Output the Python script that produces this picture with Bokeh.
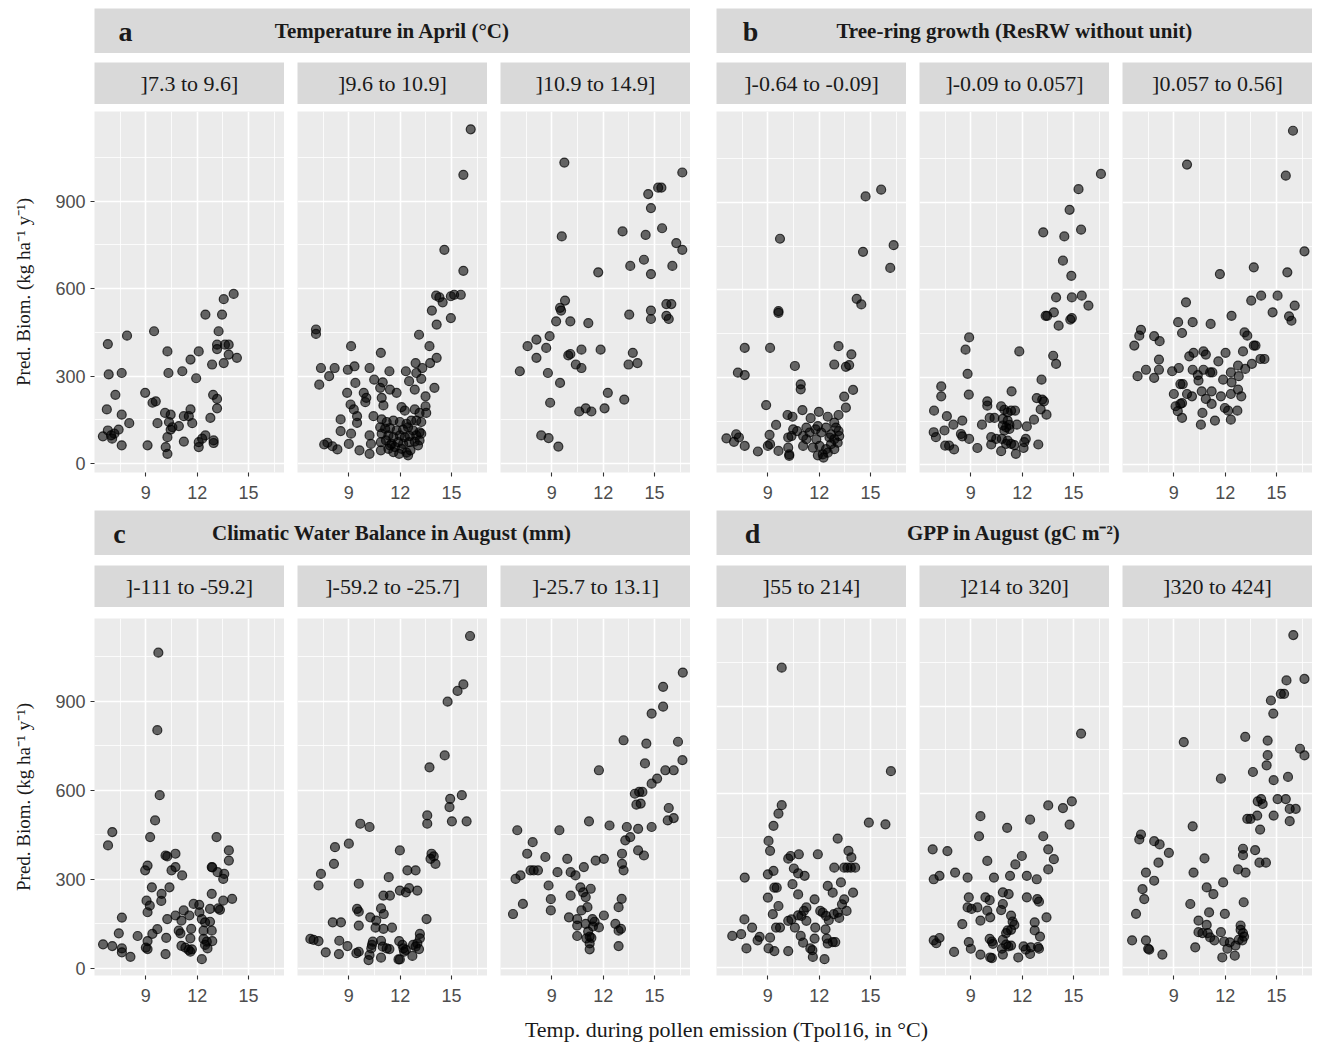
from bokeh.plotting import figure
from bokeh.layouts import row, column
from bokeh.models import Label, FixedTicker, Range1d
from bokeh.embed import file_html
from bokeh.resources import INLINE

# ---------------- data (x = Tpol16 in °C, y = predicted biomass) ----------------
A1 = [(14.13,582),(13.55,564),(12.48,511),(13.45,511),(9.48,454),(7.9,439),(13.25,454),(6.78,410),(13.16,408),(13.62,408),(13.84,408),(13.16,393),(10.26,385),(12.09,385),(13.84,374),(14.32,363),(11.61,357),(13.55,345),(12.87,340),(6.83,306),(7.59,311),(10.32,311),(11.13,317),(11.94,293),(8.96,243),(7.22,236),(12.93,236),(13.16,222),(9.39,209),(9.58,214),(6.72,186),(13.16,190),(11.61,186),(10.12,174),(10.45,168),(7.59,168),(11.22,163),(11.51,163),(12.77,157),(8.03,139),(9.68,139),(10.35,143),(10.55,125),(10.93,129),(10.45,117),(11.71,139),(6.49,94),(6.78,114),(6.97,97),(7.16,103),(7.41,117),(7.03,86),(7.59,63),(9.1,63),(10.26,91),(10.16,57),(10.26,34),(11.22,76),(12.09,74),(12.09,57),(12.29,86),(12.48,97),(12.96,80),(12.96,71)]
A2 = [(16.12,1146),(15.69,990),(14.58,733),(15.69,661),(14.1,576),(14.29,570),(14.48,553),(14.96,574),(15.15,579),(15.54,579),(13.85,525),(14.96,499),(14.13,477),(7.08,460),(7.08,445),(13.1,442),(9.13,403),(10.87,380),(13.71,403),(14.13,363),(13.75,345),(12.9,345),(13.29,328),(7.37,328),(8.17,328),(7.85,300),(8.94,322),(9.33,334),(10.21,328),(11.37,317),(12.33,317),(7.27,271),(9.38,277),(10.48,288),(12.94,311),(13.23,291),(12.52,283),(12.85,254),(14.0,260),(10.98,279),(10.83,260),(11.4,254),(11.79,243),(8.9,243),(9.87,243),(10.02,226),(9.96,211),(9.1,203),(9.29,186),(9.48,163),(10.92,226),(11.02,200),(10.44,163),(12.08,194),(12.27,182),(13.48,231),(13.48,197),(13.52,174),(12.85,186),(13.13,174),(8.52,152),(8.52,112),(9.13,103),(9.48,140),(7.56,66),(7.75,72),(8.04,60),(8.33,49),(9.0,68),(9.62,46),(10.21,97),(10.29,68),(10.21,34),
      (10.92,152),(11.21,143),(11.6,148),(11.98,143),(12.37,137),(12.65,148),(12.94,148),(13.23,143),(10.83,125),(11.12,120),(11.4,122),(11.79,114),(12.17,117),(12.46,125),(12.75,114),(13.13,108),(10.92,103),(11.31,97),(11.6,91),(11.98,97),(12.27,91),(12.56,95),(12.94,97),(13.23,103),(10.87,74),(11.17,80),(11.5,68),(11.88,74),(12.17,68),(12.52,74),(12.85,76),(13.13,80),(10.87,46),(11.31,51),(11.6,40),(11.94,34),(12.37,38),(12.6,46),(13.04,63),(12.46,29),(12.08,51),(11.69,57),(11.4,63)]
A3 = [(9.73,1032),(16.62,998),(15.21,946),(15.4,946),(14.63,924),(14.79,876),(13.13,796),(14.48,784),(15.44,807),(9.58,779),(16.27,756),(16.62,733),(14.38,699),(13.58,678),(16.04,678),(14.79,650),(11.71,656),(9.77,559),(9.48,534),(9.54,525),(9.25,488),(10.08,488),(11.13,482),(13.52,511),(14.79,525),(14.79,496),(15.69,547),(15.98,547),(15.69,507),(15.83,496),(8.87,437),(8.1,425),(7.58,403),(8.67,397),(8.1,363),(9.96,371),(10.08,376),(10.73,391),(11.85,391),(13.73,380),(10.4,340),(10.73,328),(13.48,340),(14.0,345),(7.13,317),(8.77,311),(9.48,277),(12.27,243),(13.23,220),(8.9,209),(10.6,179),(10.98,190),(11.31,179),(12.08,190),(8.38,97),(8.81,88),(9.38,59)]
B1 = [(15.62,943),(14.71,920),(9.71,775),(16.35,753),(14.56,730),(16.15,675),(14.19,569),(14.46,550),(9.62,527),(9.62,521),(7.65,401),(9.13,401),(13.13,407),(13.88,379),(10.58,339),(12.88,344),(13.56,336),(13.75,342),(7.25,316),(7.65,308),(10.92,276),(10.92,259),(13.98,257),(13.46,234),(8.9,205),(13.56,196),(11.02,188),(10.15,171),(10.44,165),(11.98,182),(11.5,160),(12.5,165),(13.13,171),(9.48,137),
      (12.88,145),(12.98,128),(13.13,116),(13.17,99),(12.88,88),(12.6,94),(12.69,71),(12.4,54),(12.21,36),(12.02,65),(11.83,88),(11.63,59),(11.92,33),(12.25,25),(12.88,54),(13.08,76),(12.69,105),(12.4,128),(12.12,111),(11.79,122),(11.44,111),(11.25,128),(11.06,99),(11.06,65),(10.71,116),(10.48,122),(10.38,99),(10.19,94),(10.19,59),(10.25,36),(10.25,31),(9.62,48),(9.13,71),(9.0,65),(9.1,103),(8.42,46),(7.65,65),(7.31,94),(7.15,105),(7.02,79),(6.58,91),(11.25,88),(11.92,133),(12.5,42)]
B2 = [(16.6,997),(15.29,945),(14.77,874),(15.44,806),(13.23,797),(14.46,783),(14.38,700),(14.87,648),(13.98,574),(14.9,574),(15.48,580),(15.87,546),(13.85,523),(13.46,511),(13.37,511),(14.13,477),(14.81,498),(14.9,503),(8.9,437),(8.69,395),(11.83,389),(13.81,374),(13.98,346),(8.81,312),(13.13,292),(7.27,269),(7.27,235),(8.88,241),(11.38,252),(12.85,229),(13.17,224),(13.27,218),(9.96,218),(9.96,203),(6.85,186),(7.6,167),(13.08,190),(13.42,172),(8.5,152),(7.98,138),(9.65,138),(10.1,161),(10.38,161),(12.69,155),(12.27,132),
      (10.77,201),(10.96,189),(11.15,180),(11.35,186),(11.58,186),(10.87,158),(11.15,152),(10.87,135),(11.06,129),(11.25,137),(11.69,138),(10.96,118),(11.25,123),(10.81,89),(11.15,83),(11.35,72),(11.54,68),(10.77,47),(11.06,72),(11.63,38),(12.12,78),(12.08,58),(12.21,89),(12.94,70),
      (6.83,112),(6.96,95),(7.46,118),(7.5,66),(7.73,66),(8.02,53),(8.42,106),(8.5,98),(8.9,89),(9.38,58),(10.19,95),(10.19,70),(10.48,89)]
B3 = [(15.96,1145),(9.77,1029),(15.54,991),(16.63,732),(13.67,677),(15.63,660),(11.69,654),(13.52,563),(14.1,580),(15.06,580),(16.06,546),(9.71,557),(14.77,523),(15.73,509),(15.87,494),(12.37,511),(9.25,489),(9.48,452),(10.1,489),(11.15,483),(7.08,463),(6.98,443),(6.69,409),(7.85,441),(8.17,424),(13.13,454),(13.29,443),(13.67,409),(13.77,409),(13.04,389),(8.13,361),(9.9,372),(10.15,384),(10.73,389),(10.87,378),(12.02,384),(11.6,355),(14.06,363),(14.29,363),(13.56,346),(7.37,326),(8.13,326),(8.9,321),(9.29,332),(6.88,304),(7.85,298),(10.1,326),(10.73,326),(10.4,308),(10.44,289),(11.12,317),(11.25,317),(12.75,340),(13.17,329),(12.33,317),(12.37,283),(12.79,304),(11.88,292),(9.38,277),(9.52,277),(9.0,243),(9.77,243),(10.06,235),(10.63,252),(11.21,252),(11.75,235),(12.33,243),(12.75,258),(12.94,235),(10.87,226),(11.21,209),(9.1,201),(9.38,209),(9.48,212),(9.23,184),(9.48,161),(11.98,195),(12.17,186),(10.67,178),(11.4,152),(12.33,155),(12.71,186),(10.58,138)]
C1 = [(9.73,1063),(9.67,802),(9.81,583),(9.54,498),(7.04,459),(6.79,414),(9.25,442),(13.13,442),(13.85,397),(13.85,363),(10.15,380),(10.25,377),(10.73,386),(9.1,346),(8.96,330),(10.73,341),(10.5,330),(11.12,313),(12.85,341),(12.88,340),(13.19,324),(13.58,318),(13.52,301),(9.35,273),(10.38,273),(9.92,251),(9.9,227),(9.04,228),(9.23,211),(9.1,189),(12.85,251),(14.04,234),(13.52,228),(13.23,202),(13.33,197),(12.75,200),(11.79,217),(12.12,214),(11.21,195),(10.73,178),(11.08,161),(11.54,178),(12.13,189),(12.27,166),(12.46,155),(12.75,157),(10.25,166),(7.6,171),(10.92,127),(11.02,118),(11.65,133),(11.6,101),(12.37,127),(12.85,127),(12.37,99),(12.56,90),(12.46,79),(12.88,92),(12.6,67),(12.27,31),(11.08,76),(11.31,70),(11.5,62),(11.6,56),(11.69,64),(10.19,103),(10.15,48),(9.67,132),(9.38,116),(8.52,109),(9.1,92),(9.0,70),(9.1,65),(7.42,118),(6.5,81),(7.04,75),(7.6,67),(7.6,54),(8.1,39)]
C2 = [(16.08,1119),(15.35,934),(15.69,956),(14.77,898),(14.6,717),(13.71,677),(15.6,583),(14.92,571),(14.88,543),(13.58,515),(13.58,487),(15.02,495),(15.88,495),(9.67,487),(10.21,476),(9.0,420),(8.19,408),(11.98,397),(13.83,386),(13.96,377),(13.77,369),(14.06,352),(8.13,352),(7.37,318),(7.23,279),(12.42,330),(12.9,330),(11.33,307),(9.58,285),(11.02,245),(11.4,245),(11.98,262),(12.33,256),(12.52,270),(13.0,262),(9.48,200),(9.58,191),(10.88,202),(11.04,183),(10.25,172),(10.6,161),(13.54,166),(8.06,155),(8.54,155),(9.58,144),(10.56,137),(11.02,133),(11.52,137),(13.15,116),(13.15,101),
      (6.75,99),(6.94,96),(7.23,92),(8.44,93),(8.92,75),(7.65,54),(8.42,48),(9.44,51),(9.58,56),(10.21,45),(10.15,28),(10.31,67),(10.4,90),(10.35,79),(10.88,93),(10.98,73),(11.21,67),(11.37,65),(10.88,36),(11.9,30),(11.98,30),(11.94,92),(12.13,79),(12.19,67),(12.33,62),(12.23,56),(12.71,42),(12.75,79),(12.9,73),(13.1,65),(13.0,84)]
C3 = [(16.65,996),(15.5,948),(15.5,881),(14.83,858),(13.19,768),(14.52,757),(16.37,763),(16.63,701),(14.44,690),(11.75,667),(15.63,667),(16.12,667),(14.83,622),(15.15,639),(13.85,588),(14.1,594),(14.29,594),(13.94,551),(14.19,555),(15.83,540),(15.77,498),(16.12,506),(11.17,495),(12.37,481),(13.38,476),(14.04,470),(14.83,476),(9.44,465),(6.98,465),(13.29,431),(13.58,442),(14.04,397),(14.38,380),(7.88,425),(7.56,386),(8.62,375),(9.9,369),(13.1,386),(13.1,352),(13.19,330),(10.87,341),(11.56,363),(12.04,369),(7.75,330),(7.94,330),(8.19,330),(6.88,301),(7.17,313),(9.33,324),(10.1,324),(10.38,313),(8.81,279),(10.67,273),(11.27,268),(10.83,256),(10.98,240),(10.1,245),(8.94,233),(7.31,217),(8.94,195),(13.08,234),(12.9,206),(10.73,195),(11.08,206),(6.73,183),(10.0,172),(10.48,166),(12.04,178),(11.37,166),(11.5,157),(10.48,144),(10.48,109),(10.98,150),(11.12,124),(11.21,107),(11.02,101),(11.31,103),(11.4,141),(11.75,138),(12.71,150),(12.9,127),(13.04,133),(11.21,84),(11.21,64),(12.9,75)]
D1 = [(9.81,1033),(16.19,677),(14.9,500),(15.87,494),(9.81,560),(9.62,531),(9.33,489),(9.04,437),(9.13,403),(13.08,445),(13.71,403),(13.88,380),(10.19,376),(10.33,385),(10.81,391),(11.92,391),(10.52,342),(10.77,325),(11.15,317),(9.33,334),(9.0,322),(12.88,345),(13.46,345),(13.65,345),(13.85,345),(14.1,345),(7.65,311),(9.38,276),(9.52,276),(10.44,288),(12.5,282),(12.79,259),(13.27,294),(13.98,259),(10.77,253),(9.0,242),(9.62,213),(9.29,185),(13.46,236),(13.33,219),(13.6,196),(11.73,236),(11.25,208),(11.1,196),(10.96,179),(10.77,181),(11.25,162),(10.19,162),(10.38,167),(10.58,139),(9.48,139),(9.71,139),(12.06,196),(12.21,190),(12.4,179),(12.56,164),(12.85,185),(13.08,190),(13.17,172),(11.77,139),(11.73,101),(12.37,133),(12.44,101),(12.5,84),(12.79,89),(12.94,89),(7.63,167),(8.08,139),(6.92,110),(7.44,116),(8.52,107),(8.4,95),(9.13,104),(7.75,67),(9.04,67),(9.38,58),(10.19,58),(10.92,110),(11.06,87),(11.48,67),(11.6,61),(11.63,38),(12.31,30)]
D2 = [(15.44,806),(14.9,573),(13.52,559),(14.38,550),(14.77,493),(9.56,522),(12.46,510),(11.12,482),(9.48,453),(13.23,453),(6.77,408),(7.63,402),(13.52,408),(13.85,374),(13.52,339),(11.98,385),(11.6,356),(9.96,368),(8.08,328),(6.83,305),(7.17,317),(8.81,311),(10.35,311),(11.29,317),(12.27,317),(12.85,305),(8.88,243),(9.85,243),(10.1,233),(10.87,260),(11.21,254),(12.27,243),(12.88,237),(12.98,228),(8.81,208),(9.04,203),(9.38,208),(9.96,197),(10.13,174),(10.87,220),(10.77,199),(9.56,163),(8.5,151),(11.35,180),(11.44,159),(11.54,148),(11.35,131),(11.15,129),(11.06,120),(13.42,174),(12.73,157),(12.73,129),(13.04,108),(6.83,95),(6.98,85),(7.17,103),(8.02,55),(8.88,89),(9.0,66),(9.56,46),(10.1,100),(10.23,91),(10.29,83),(10.13,36),(10.23,34),(10.87,97),(10.81,66),(11.06,80),(11.19,74),(11.35,77),(10.87,46),(11.77,36),(12.08,74),(12.21,63),(12.46,48),(12.5,71),(12.92,72),(12.98,66)]
D3 = [(15.98,1145),(15.58,989),(16.63,994),(15.25,943),(15.44,943),(14.67,920),(14.81,875),(9.58,777),(13.17,795),(14.48,782),(16.37,754),(16.63,731),(14.48,732),(14.42,697),(13.62,674),(15.67,657),(11.75,651),(14.83,646),(13.9,573),(14.1,581),(14.19,564),(15.06,581),(15.54,581),(15.77,547),(16.12,547),(14.83,524),(15.77,505),(13.29,513),(13.48,513),(13.87,524),(14.04,476),(10.1,487),(7.08,459),(6.98,442),(7.85,436),(8.17,425),(8.71,396),(8.1,362),(10.79,377),(13.04,410),(13.04,388),(13.75,405),(14.0,362),(14.38,362),(7.37,328),(7.85,300),(10.15,328),(12.75,339),(13.19,328),(7.17,271),(7.27,237),(10.92,277),(11.31,254),(11.88,294),(9.96,220),(13.08,226),(6.79,186),(11.06,191),(11.98,186),(10.44,163),(10.92,148),(10.44,123),(10.67,120),(10.98,120),(11.12,105),(11.37,95),(11.75,123),(10.25,71),(12.9,146),(12.9,131),(13.04,120),(13.1,108),(13.0,95),(12.79,97),(12.6,77),(12.56,42),(11.94,91),(12.27,88),(12.13,66),(11.83,36),(6.56,95),(7.37,95),(7.5,66),(7.56,63),(8.33,46)]

STRIPS_A = ["]7.3 to 9.6]", "]9.6 to 10.9]", "]10.9 to 14.9]"]
STRIPS_B = ["]-0.64 to -0.09]", "]-0.09 to 0.057]", "]0.057 to 0.56]"]
STRIPS_C = ["]-111 to -59.2]", "]-59.2 to -25.7]", "]-25.7 to 13.1]"]
STRIPS_D = ["]55 to 214]", "]214 to 320]", "]320 to 424]"]
HEADERS = [("a", "Temperature in April (°C)"), ("b", "Tree-ring growth (ResRW without unit)"),
           ("c", "Climatic Water Balance in August (mm)"), ("d", "GPP in August (gC m\u207b\u00b2)")]
X_TICKS = [9, 12, 15]
X_MINOR = [7.5, 10.5, 13.5, 16.5]
Y_TICKS = [0, 300, 600, 900]
Y_MINOR = [150, 450, 750, 1050]
X_LIM = (6.0, 17.1)
Y_LIMS = {"a": (-30, 1207), "b": (-26, 1211), "c": (-24, 1178), "d": (-26, 1202)}
Y_TITLE = "Pred. Biom. (kg ha\u207b\u00b9 y\u207b\u00b9)"
X_TITLE = "Temp. during pollen emission (Tpol16, in °C)"

# ---------------- style / layout ----------------
SERIF = "Liberation Serif"
SANS = "Liberation Sans"
PANEL_BG = "#EBEBEB"
STRIP_BG = "#D9D9D9"
FW = 190      # facet panel width
GAP = 13      # gap between facets
GGAP = 26     # gap between the two groups
LEFT = 94     # room for the y axis
LETTER_X = {"a": 31, "b": 34, "c": 25, "d": 36}


def base(width, height, **kw):
    p = figure(width=width, height=height, output_backend="svg", toolbar_location=None,
               border_fill_color="white", outline_line_color=None, **kw)
    return p


def header_fig(letter, title, left, top):
    iw = 3 * FW + 2 * GAP
    p = base(left + iw, top + 45, x_range=Range1d(0, iw), y_range=Range1d(0, 45),
             x_axis_location=None, y_axis_location=None, background_fill_color=STRIP_BG,
             min_border_left=left, min_border_right=0, min_border_top=top, min_border_bottom=0)
    p.grid.visible = False
    p.add_layout(Label(x=LETTER_X[letter], y=22.5, text=letter, text_font=SERIF,
                       text_font_style="bold", text_font_size="28px", text_align="center",
                       text_baseline="middle", text_color="#1a1a1a"))
    p.add_layout(Label(x=iw / 2, y=22.5, text=title, text_font=SERIF,
                       text_font_style="bold", text_font_size="21px", text_align="center",
                       text_baseline="middle", text_color="#1a1a1a"))
    return p


def strip_fig(text, left, top):
    p = base(left + FW, top + 42, x_range=Range1d(0, FW), y_range=Range1d(0, 42),
             x_axis_location=None, y_axis_location=None, background_fill_color=STRIP_BG,
             min_border_left=left, min_border_right=0, min_border_top=top, min_border_bottom=0)
    p.grid.visible = False
    p.add_layout(Label(x=FW / 2, y=21, text=text, text_font=SERIF, text_font_size="22px",
                       text_align="center", text_baseline="middle", text_color="#1a1a1a"))
    return p


def panel_fig(pts, ylim, left, top, fh, bottom, show_y):
    p = base(left + FW, top + fh + bottom, x_range=Range1d(*X_LIM), y_range=Range1d(*ylim),
             background_fill_color=PANEL_BG, min_border_left=left, min_border_right=0,
             min_border_top=top, min_border_bottom=bottom)
    xt = FixedTicker(ticks=X_TICKS, minor_ticks=X_MINOR)
    yt = FixedTicker(ticks=Y_TICKS, minor_ticks=Y_MINOR)
    p.xaxis.ticker = xt
    p.yaxis.ticker = yt
    p.xgrid.ticker = xt
    p.ygrid.ticker = yt
    for g in (p.xgrid, p.ygrid):
        g.grid_line_color = "white"
        g.grid_line_width = 1.6
        g.minor_grid_line_color = "white"
        g.minor_grid_line_width = 0.8
    for ax in (p.xaxis, p.yaxis):
        ax.axis_line_color = None
        ax.major_tick_line_color = "#333333"
        ax.major_tick_line_width = 1.1
        ax.major_tick_out = 4
        ax.major_tick_in = 0
        ax.minor_tick_line_color = None
        ax.major_label_text_font = SANS
        ax.major_label_text_font_size = "18px"
        ax.major_label_text_color = "#4D4D4D"
    p.xaxis.major_label_standoff = 9
    if show_y:
        p.yaxis.major_label_standoff = 5
        p.yaxis.axis_label = Y_TITLE
        p.yaxis.axis_label_text_font = SERIF
        p.yaxis.axis_label_text_font_style = "normal"
        p.yaxis.axis_label_text_font_size = "19px"
        p.yaxis.axis_label_text_color = "#1a1a1a"
        p.yaxis.axis_label_standoff = 18
    else:
        p.yaxis.visible = False
    xs = [q[0] for q in pts]
    ys = [q[1] for q in pts]
    p.scatter(xs, ys, size=9, fill_color="black", fill_alpha=0.58,
              line_color="black", line_alpha=0.72, line_width=1.2)
    return p


def block(groups, header_top, strip_top, panel_top, fh, bottom):
    hdr, strips, panels = [], [], []
    for gi, (key, data, labels) in enumerate(groups):
        gleft = LEFT if gi == 0 else GGAP
        letter, title = HEADERS["abcd".index(key)]
        hdr.append(header_fig(letter, title, gleft, header_top))
        for fi in range(3):
            left = gleft if fi == 0 else GAP
            strips.append(strip_fig(labels[fi], left, strip_top))
            panels.append(panel_fig(data[fi], Y_LIMS[key], left, panel_top, fh, bottom,
                                    gi == 0 and fi == 0))
    return column(row(*hdr), row(*strips), row(*panels))


top = block([("a", [A1, A2, A3], STRIPS_A), ("b", [B1, B2, B3], STRIPS_B)],
            header_top=8, strip_top=9, panel_top=7, fh=361, bottom=38)
bot = block([("c", [C1, C2, C3], STRIPS_C), ("d", [D1, D2, D3], STRIPS_D)],
            header_top=0, strip_top=10, panel_top=11, fh=357, bottom=35)

TOTAL_W = LEFT + 6 * FW + 4 * GAP + GGAP
xt_fig = base(TOTAL_W, 32, x_range=Range1d(0, TOTAL_W), y_range=Range1d(0, 32),
              x_axis_location=None, y_axis_location=None, background_fill_color="white",
              min_border=0)
xt_fig.grid.visible = False
xt_fig.add_layout(Label(x=726, y=13, text=X_TITLE, text_font=SERIF, text_font_size="22px",
                        text_align="center", text_baseline="middle", text_color="#1a1a1a"))

layout = column(top, bot, xt_fig)
open("out.html", "w").write(file_html(layout, INLINE))
